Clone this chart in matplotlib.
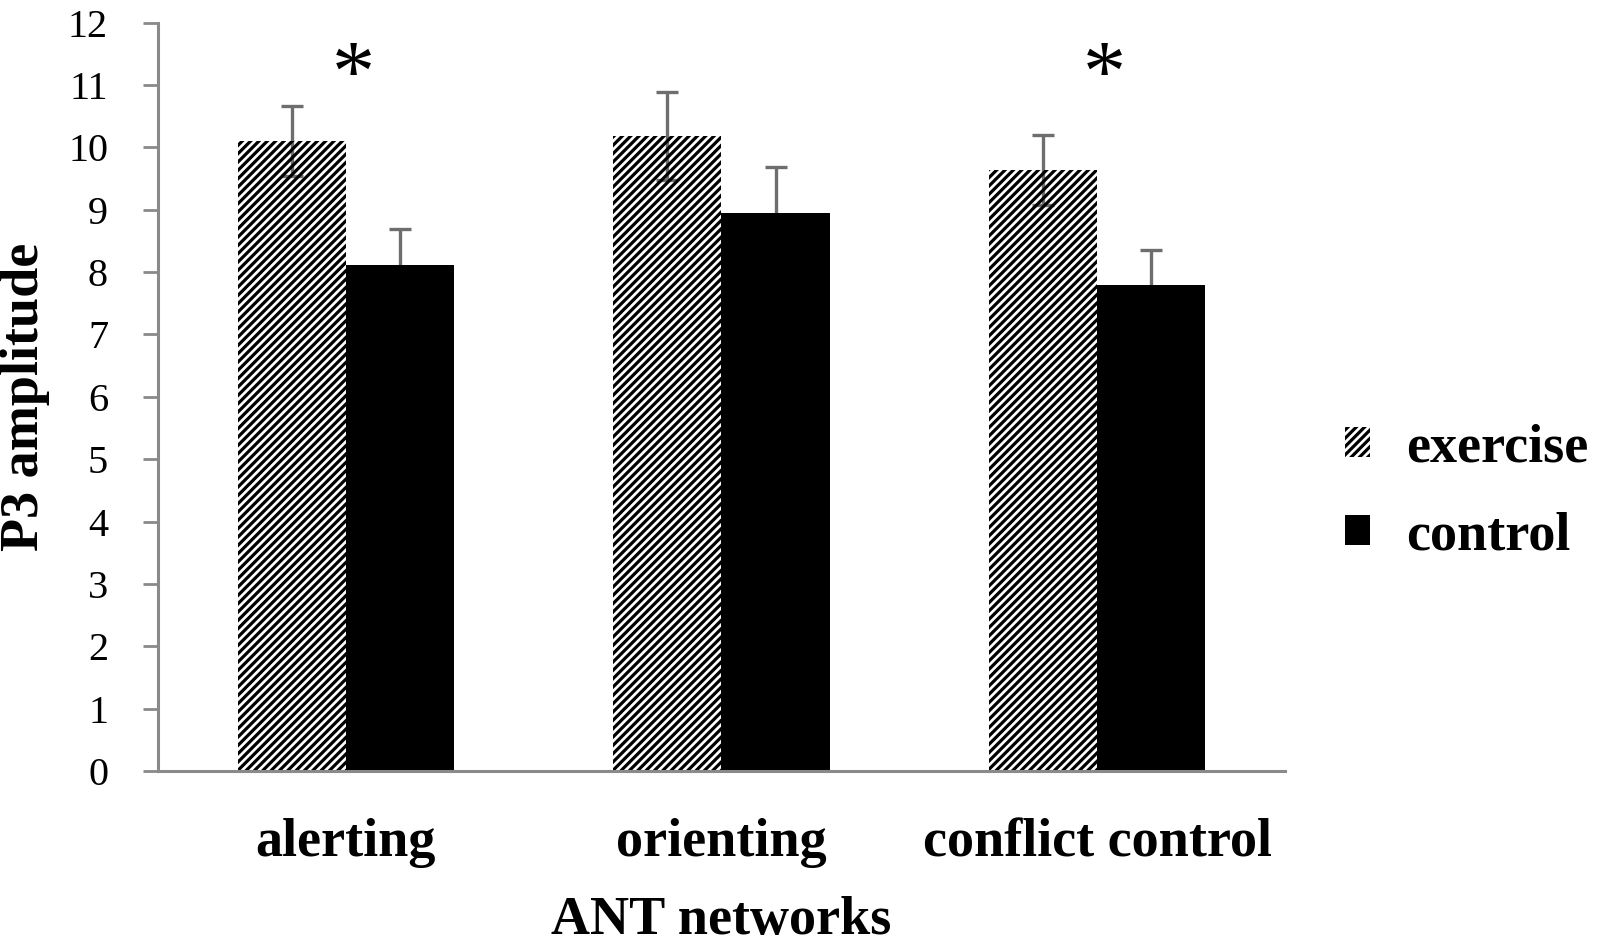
import matplotlib
matplotlib.use("Agg")
import matplotlib.pyplot as plt
import numpy as np
from matplotlib.patches import Patch

networks = ["alerting", "orienting", "conflict control"]
exercise = [10.1, 10.18, 9.64]
exercise_err = [0.56, 0.7, 0.56]
control = [8.12, 8.95, 7.8]
control_err = [0.57, 0.73, 0.55]
significant = [True, False, True]
y_ticks = list(range(0, 13))

plt.rcParams["font.family"] = ["Liberation Serif", "DejaVu Serif"]
plt.rcParams["hatch.linewidth"] = 2.3

grey = "#8a8a8a"
fig = plt.figure(figsize=(16.06, 9.43), dpi=100)
ax = fig.add_axes([0.0984, 0.1824, 0.7016, 0.7936])

x = np.arange(len(networks))
width = 0.288

# error bars go under the bars: visible through the hatch, hidden by black
ax.errorbar(x - width / 2, exercise, yerr=exercise_err, fmt="none",
            ecolor="#6e6e6e", elinewidth=2.4, capsize=8, capthick=2.4, zorder=1)
ax.errorbar(x + width / 2, control, yerr=control_err, fmt="none",
            ecolor="#6e6e6e", elinewidth=2.4, capsize=8, capthick=2.4, zorder=1)
ax.bar(x - width / 2, exercise, width, facecolor="none", edgecolor="black",
       linewidth=0, hatch="////", zorder=2)
ax.bar(x + width / 2, control, width, color="black", edgecolor="black",
       linewidth=0, zorder=2)

for xi, sig in zip(x, significant):
    if sig:
        ax.text(xi + 0.02, 11.1, "*", ha="center", va="center",
                fontsize=62, color="black")

ax.set_xlim(-0.5, 2.5)
ax.set_ylim(0, 12)
ax.set_yticks(y_ticks)
ax.set_yticklabels([str(t) for t in y_ticks], fontsize=29)
ax.set_xticks(x)
ax.set_xticklabels(networks, fontsize=39, fontweight="bold")
ax.tick_params(axis="y", direction="out", length=11, width=2, color=grey, pad=25)
ax.tick_params(axis="x", length=0, pad=34)

for side in ["top", "right"]:
    ax.spines[side].set_visible(False)
for side in ["left", "bottom"]:
    ax.spines[side].set_color(grey)
    ax.spines[side].set_linewidth(2.2)

ax.set_xlabel("ANT networks", fontsize=39, fontweight="bold", labelpad=20)
ax.set_ylabel("P3 amplitude", fontsize=39, fontweight="bold", labelpad=13)

handles = [Patch(facecolor="white", edgecolor="black", linewidth=0, hatch="////"),
           Patch(facecolor="black", edgecolor="black", linewidth=0)]
fig.legend(handles, ["exercise", "control"], loc="center left",
           bbox_to_anchor=(0.824, 0.478), frameon=False,
           prop={"size": 39, "weight": "bold"},
           handlelength=0.47, handleheight=0.47, handletextpad=0.65,
           labelspacing=0.7, borderaxespad=0)

fig.savefig("out.png", dpi=100)
